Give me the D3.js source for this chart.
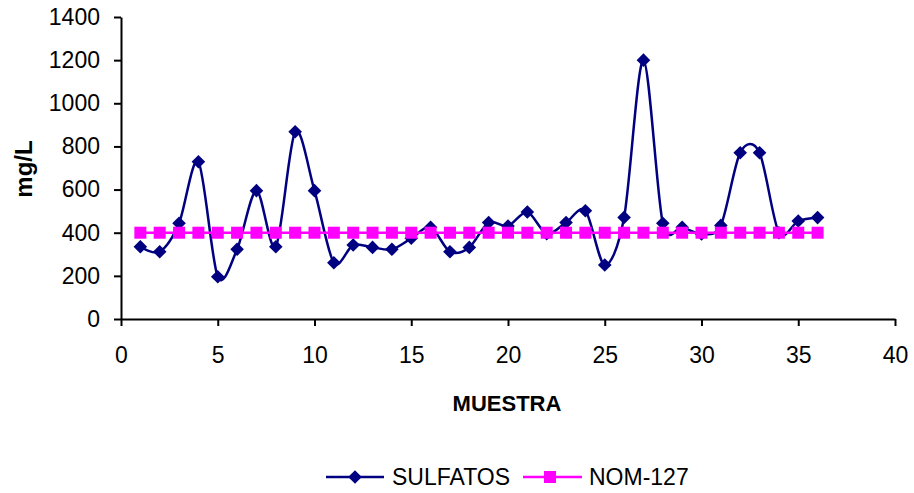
<!DOCTYPE html>
<html>
<head>
<meta charset="utf-8">
<script src="https://cdn.jsdelivr.net/npm/d3@7/dist/d3.min.js"></script>
<style>
  html, body { margin: 0; padding: 0; background: #fff; }
  svg { display: block; font-family: "Liberation Sans", Arial, sans-serif; }
</style>
</head>
<body>
<svg id="chart" width="914" height="493"></svg>
<script>
// ---- data ----
const muestra = [1,2,3,4,5,6,7,8,9,10,11,12,13,14,15,16,17,18,19,20,21,22,23,24,25,26,27,28,29,30,31,32,33,34,35,36];
const sulfatos = [335,312,444,729,196,323,595,335,868,595,261,343,332,323,374,425,312,332,447,431,496,395,447,502,250,471,1200,444,425,394,434,771,771,400,454,470];
const nom127 = muestra.map(() => 400);
const xTicks = [0,5,10,15,20,25,30,35,40];
const yTicks = [0,200,400,600,800,1000,1200,1400];
const seriesNames = ["SULFATOS", "NOM-127"];

// ---- layout ----
const svg = d3.select("#chart");
const pLeft = 121, pRight = 895, pTop = 17, pBottom = 319;
const x = d3.scaleLinear().domain([0, 40]).range([pLeft, pRight]);
const y = d3.scaleLinear().domain([0, 1400]).range([pBottom, pTop]);
const navy = "#000080", magenta = "#FF00FF";

// axes
const xAxis = svg.append("g").attr("transform", `translate(0,${pBottom})`)
  .call(d3.axisBottom(x).tickValues(xTicks).tickFormat(d3.format("d")).tickSize(7).tickPadding(8).tickSizeOuter(0));
const yAxis = svg.append("g").attr("transform", `translate(${pLeft},0)`)
  .call(d3.axisLeft(y).tickValues(yTicks).tickFormat(d3.format("d")).tickSize(7).tickPadding(14).tickSizeOuter(0));
[xAxis, yAxis].forEach(g => {
  g.selectAll("path.domain").attr("stroke", "#000").attr("stroke-width", 2);
  g.selectAll(".tick line").attr("stroke", "#000").attr("stroke-width", 2);
  g.selectAll(".tick text").attr("fill", "#000").attr("font-size", 23)
    .attr("font-family", "'Liberation Sans', Arial, sans-serif");
});
xAxis.selectAll(".tick text").attr("dy", "0.71em").attr("y", 28);

// axis titles
svg.append("text").attr("x", 507).attr("y", 411).attr("text-anchor", "middle")
  .attr("font-size", 22).attr("font-weight", "bold").text("MUESTRA");
svg.append("text").attr("transform", "translate(32,169) rotate(-90)").attr("text-anchor", "middle")
  .attr("font-size", 24).attr("font-weight", "bold").text("mg/L");

// SULFATOS line
const line = d3.line().x((d, i) => x(muestra[i])).y(d => y(d)).curve(d3.curveCardinal.tension(0.1));
svg.append("path").datum(sulfatos).attr("d", line)
  .attr("fill", "none").attr("stroke", navy).attr("stroke-width", 2.5);
const diamond = s => `M0,${-s}L${s},0L0,${s}L${-s},0Z`;
svg.append("g").selectAll("path").data(sulfatos).join("path")
  .attr("transform", (d, i) => `translate(${x(muestra[i])},${y(d)})`)
  .attr("d", diamond(6.8)).attr("fill", navy);

// NOM-127 line
const line2 = d3.line().x((d, i) => x(muestra[i])).y(d => y(d));
svg.append("path").datum(nom127).attr("d", line2)
  .attr("fill", "none").attr("stroke", magenta).attr("stroke-width", 2.5);
svg.append("g").selectAll("rect").data(nom127).join("rect")
  .attr("x", (d, i) => x(muestra[i]) - 6).attr("y", d => y(d) - 6)
  .attr("width", 12).attr("height", 12).attr("fill", magenta);

// legend
const lg = svg.append("g");
lg.append("line").attr("x1", 326).attr("x2", 384).attr("y1", 477).attr("y2", 477)
  .attr("stroke", navy).attr("stroke-width", 2.5);
lg.append("path").attr("transform", "translate(355,477)").attr("d", diamond(6.8)).attr("fill", navy);
lg.append("text").attr("x", 392).attr("y", 485).attr("font-size", 23).text(seriesNames[0]);
lg.append("line").attr("x1", 523).attr("x2", 582).attr("y1", 477).attr("y2", 477)
  .attr("stroke", magenta).attr("stroke-width", 2.5);
lg.append("rect").attr("x", 544).attr("y", 471).attr("width", 12).attr("height", 12).attr("fill", magenta);
lg.append("text").attr("x", 589).attr("y", 485).attr("font-size", 23).text(seriesNames[1]);
</script>
</body>
</html>
